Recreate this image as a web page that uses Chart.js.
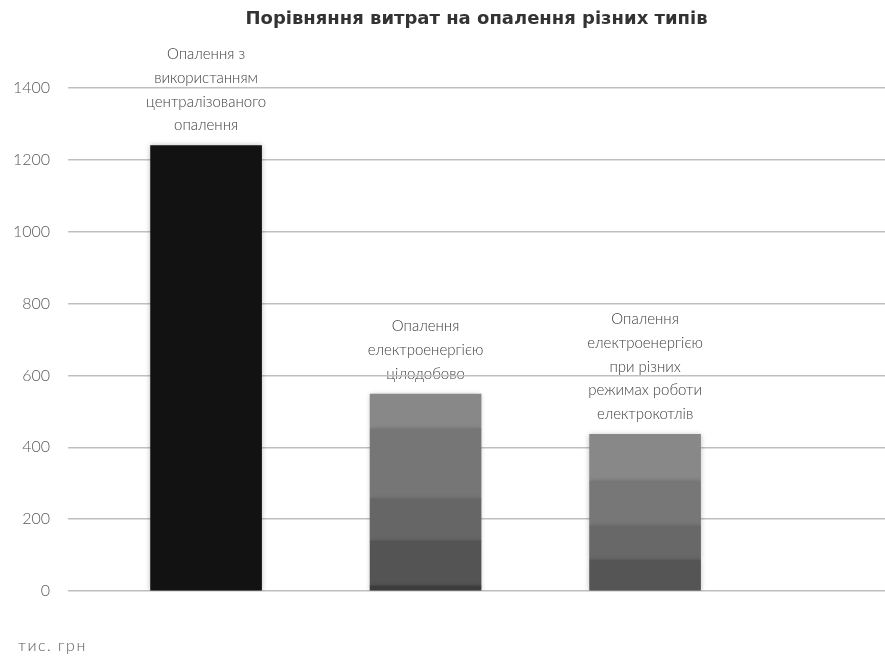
<!DOCTYPE html>
<html>
<head>
<meta charset="utf-8">
<script src="https://cdn.jsdelivr.net/npm/chart.js@4.4.1/dist/chart.umd.min.js"></script>
<style>
  html, body { margin: 0; padding: 0; background: #ffffff; }
  #wrap { width: 885px; height: 657px; position: relative; }
</style>
</head>
<body>
<div id="wrap"><canvas id="c"></canvas></div>
<script>
// ---- data ----
const chartTitle = 'Порівняння витрат на опалення різних типів';
const unitLabel = 'тис. грн';
const categories = [
  ['Опалення з', 'використанням', 'централізованого', 'опалення'],
  ['Опалення', 'електроенергією', 'цілодобово'],
  ['Опалення', 'електроенергією', 'при різних', 'режимах роботи', 'електрокотлів']
];
// stacked segments, from bottom to top, per category
const segCentral = [1240];
const segAllDay = [14, 125, 117, 195, 97];
const segModes = [86, 93, 125, 132];
const yTicks = [0, 200, 400, 600, 800, 1000, 1200, 1400];

// ---- styles ----
const colCentral = ['#121212'];
const colAllDay = ['#3c3c3c', '#545454', '#666666', '#767676', '#888888'];
const colModes = ['#555555', '#686868', '#777777', '#888888'];

const segs = [segCentral, segAllDay, segModes];
const cols = [colCentral, colAllDay, colModes];
const nSeg = Math.max(...segs.map(s => s.length));
const datasets = [];
for (let j = 0; j < nSeg; j++) {
  datasets.push({
    data: categories.map((c, i) => ({ x: i + 1, y: segs[i][j] !== undefined ? segs[i][j] : null })),
    backgroundColor: categories.map((c, i) => cols[i][j] || '#888888'),
    borderWidth: 0,
    barThickness: 111,
    stack: 's'
  });
}

const FONT = "'Lato', 'Open Sans', 'DejaVu Sans', sans-serif";

const labelPlugin = {
  id: 'labels',
  beforeDraw(chart) {
    const ctx = chart.ctx;
    const area = chart.chartArea;
    ctx.save();
    ctx.fillStyle = '#ffffff';
    ctx.fillRect(0, 0, chart.width, chart.height);
    // title
    ctx.fillStyle = '#333333';
    ctx.font = "bold 18px 'DejaVu Sans', sans-serif";
    ctx.textAlign = 'center';
    ctx.textBaseline = 'middle';
    ctx.fillText(chartTitle, (area.left + area.right) / 2, 19);
    // unit
    ctx.font = "300 16px " + FONT;
    ctx.fillStyle = '#595959';
    ctx.textAlign = 'left';
    if ('letterSpacing' in ctx) ctx.letterSpacing = '1.5px';
    ctx.fillText(unitLabel, 18, 646);
    if ('letterSpacing' in ctx) ctx.letterSpacing = '0px';
    // category labels above stacks
    const ys = chart.scales.y, xs = chart.scales.x;
    ctx.textAlign = 'center';
    ctx.fillStyle = '#404040';
    ctx.font = "300 15px " + FONT;
    categories.forEach((lines, i) => {
      const total = segs[i].reduce((a, b) => a + b, 0);
      const top = ys.getPixelForValue(total);
      const cx = xs.getPixelForValue(i + 1);
      const lh = 23.8;
      lines.forEach((ln, k) => {
        const y = top - 20 - (lines.length - 1 - k) * lh;
        ctx.fillText(ln, cx, y);
      });
    });
    ctx.restore();
  },
  beforeDatasetsDraw(chart) {
    const ctx = chart.ctx;
    ctx.save();
    ctx.shadowColor = 'rgba(0,0,0,0.25)';
    ctx.shadowBlur = 5;
    ctx.shadowOffsetX = 0;
    ctx.shadowOffsetY = 0;
  },
  afterDatasetsDraw(chart) {
    chart.ctx.restore();
  }
};

new Chart(document.getElementById('c'), {
  type: 'bar',
  data: { datasets },
  options: {
    responsive: true,
    maintainAspectRatio: false,
    animation: false,
    layout: { padding: { top: 88, bottom: 66, left: 0, right: 0 } },
    plugins: { legend: { display: false }, tooltip: { enabled: false }, title: { display: false } },
    scales: {
      x: {
        type: 'linear',
        min: 0.371,
        max: 4.093,
        stacked: true,
        display: false,
        offset: false
      },
      y: {
        stacked: true,
        min: 0,
        max: 1400,
        afterBuildTicks(axis) { axis.ticks = yTicks.map(v => ({ value: v })); },
        afterFit(axis) { axis.width = 68; },
        border: { display: false },
        grid: { color: '#bfbfbf', lineWidth: 1.5, drawTicks: false },
        ticks: {
          color: '#595959',
          font: { family: FONT, size: 16, weight: '300' },
          padding: 18,
          callback: v => String(v)
        }
      }
    }
  },
  plugins: [labelPlugin]
});
</script>
</body>
</html>
